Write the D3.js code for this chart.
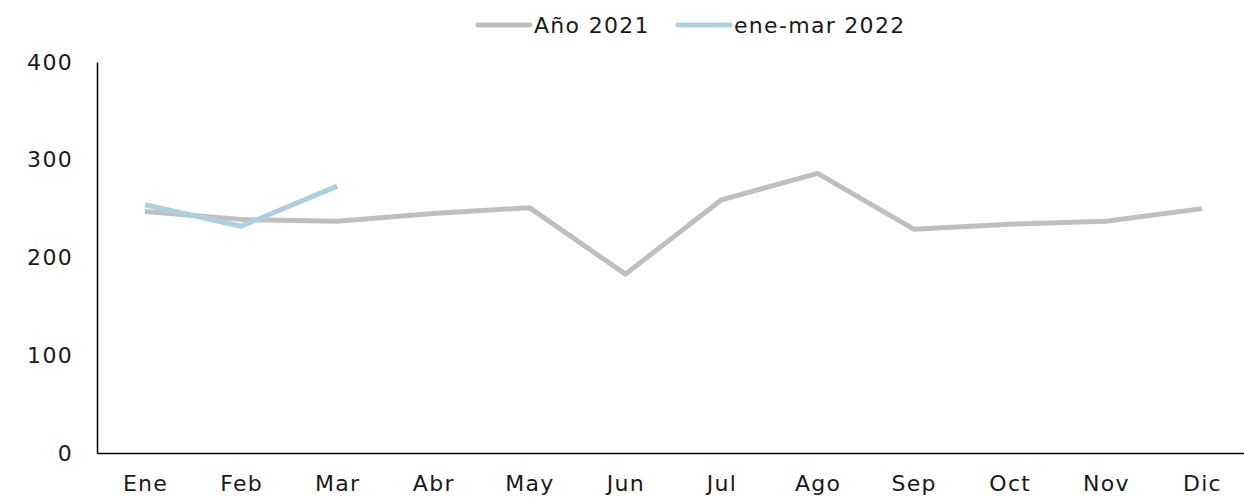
<!DOCTYPE html>
<html>
<head>
<meta charset="utf-8">
<script src="https://cdn.jsdelivr.net/npm/d3@7"></script>
<style>
  html, body { margin: 0; padding: 0; background: #fff; }
  svg { display: block; }
  .lbl { font-family: "DejaVu Sans", "Noto Sans", sans-serif; font-size: 22px; letter-spacing: 1.3px; fill: #1a1a1a; }
</style>
</head>
<body>
<svg id="chart" width="1244" height="497"></svg>
<script>
// Monthly series
const months = ["Ene", "Feb", "Mar", "Abr", "May", "Jun", "Jul", "Ago", "Sep", "Oct", "Nov", "Dic"];
const values2021 = [247, 239, 237, 245, 251, 183, 259, 286, 229, 234, 237, 250];
const values2022 = [254, 232, 273];
const yTicks = [0, 100, 200, 300, 400];
const seriesNames = ["Año 2021", "ene-mar 2022"];
const seriesColors = ["#BFBFBF", "#ADD0E0"];

const svg = d3.select("#chart");
const plot = { left: 97, right: 1250, top: 62, bottom: 453 };

const x = d3.scalePoint().domain(months).range([plot.left, plot.right]).padding(0.5);
const y = d3.scaleLinear().domain([0, 400]).range([plot.bottom, plot.top]);

// Y axis
const yAxis = svg.append("g")
  .attr("transform", `translate(${plot.left},0)`)
  .call(d3.axisLeft(y).tickValues(yTicks).tickSize(0).tickPadding(24));
yAxis.select(".domain").attr("stroke", "#000").attr("stroke-width", 1.5);
yAxis.selectAll("text").attr("class", "lbl").attr("fill", null);

// X axis
const xAxis = svg.append("g")
  .attr("transform", `translate(0,${plot.bottom})`)
  .call(d3.axisBottom(x).tickSize(0).tickPadding(22));
xAxis.select(".domain").attr("stroke", "#000").attr("stroke-width", 1.5);
xAxis.selectAll("text").attr("class", "lbl").attr("fill", null);
[yAxis, xAxis].forEach(a => a.attr("font-family", null).attr("font-size", null));

// Lines
const line = d3.line()
  .x((d, i) => x(months[i]))
  .y(d => y(d));

[values2021, values2022].forEach((vals, k) => {
  svg.append("path")
    .datum(vals)
    .attr("fill", "none")
    .attr("stroke", seriesColors[k])
    .attr("stroke-width", 5)
    .attr("stroke-linejoin", "round")
    .attr("d", line);
});

// Legend
const legendX = [478, 678];
seriesNames.forEach((name, k) => {
  const g = svg.append("g").attr("transform", `translate(${legendX[k]},25)`);
  g.append("line")
    .attr("x1", 0).attr("x2", 52)
    .attr("stroke", seriesColors[k]).attr("stroke-width", 5)
    .attr("stroke-linecap", "round");
  g.append("text")
    .attr("class", "lbl")
    .attr("x", 56).attr("dy", "0.35em")
    .text(name);
});
</script>
</body>
</html>
